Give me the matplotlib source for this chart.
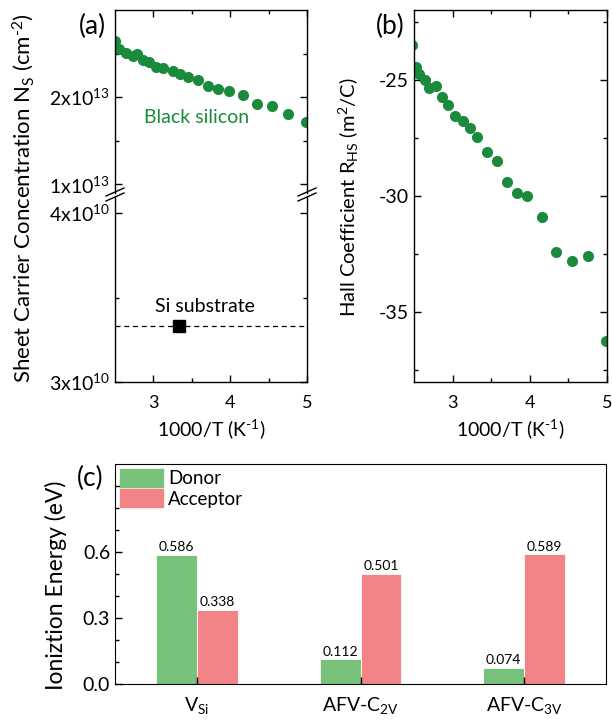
import matplotlib
matplotlib.use("Agg")
import matplotlib.pyplot as plt
from matplotlib.lines import Line2D
from matplotlib.patches import Patch
import numpy as np

plt.rcParams['font.family'] = ['Lato', 'DejaVu Sans']
plt.rcParams['mathtext.fontset'] = 'custom'
plt.rcParams['mathtext.rm'] = 'Lato'
plt.rcParams['mathtext.default'] = 'regular'
plt.rcParams['axes.unicode_minus'] = False

# (a) sheet carrier concentration, black silicon (units of 1e13 cm^-2)
bs_x = [2.50, 2.55, 2.64, 2.73, 2.79, 2.86, 2.94, 3.03, 3.13, 3.25, 3.35,
        3.45, 3.58, 3.71, 3.84, 3.99, 4.17, 4.35, 4.55, 4.75, 4.99]
bs_n = [2.64, 2.55, 2.51, 2.47, 2.49, 2.43, 2.40, 2.35, 2.34, 2.30, 2.27,
        2.23, 2.20, 2.13, 2.09, 2.07, 2.02, 1.92, 1.90, 1.81, 1.71]
# Si substrate (units of 1e10 cm^-2)
si_x = [3.33]
si_n = [3.33]

# (b) Hall coefficient
hall_x = [2.47, 2.53, 2.57, 2.64, 2.70, 2.78, 2.86, 2.94, 3.03, 3.13, 3.22,
          3.32, 3.45, 3.57, 3.70, 3.84, 3.97, 4.16, 4.34, 4.55, 4.76, 4.99]
hall_r = [-23.5, -24.44, -24.74, -25.0, -25.35, -25.26, -25.74, -26.08,
          -26.56, -26.77, -27.08, -27.47, -28.1, -28.5, -29.4, -29.85,
          -30.0, -30.9, -32.4, -32.8, -32.6, -36.25]

# (c) ionization energies
groups = ['V$_{Si}$', 'AFV-C$_{2V}$', 'AFV-C$_{3V}$']
donor = [0.586, 0.112, 0.074]
acceptor = [0.338, 0.501, 0.589]

W, H = 612, 726
GREEN = '#1a8a3c'
BAR_G = '#78c27b'
BAR_R = '#f28487'
XLABEL = r'1000/T (K$^{\text{-}1}$)'


def rect(l, t, r, b):
    return [l / W, 1 - b / H, (r - l) / W, (b - t) / H]


def style(ax):
    ax.tick_params(which='both', direction='in', top=True, right=True,
                   labelsize=13, width=1)
    ax.tick_params(which='major', length=5)
    ax.tick_params(which='minor', length=3)
    ax.tick_params(axis='x', pad=9)
    for s in ax.spines.values():
        s.set_linewidth(1)


fig = plt.figure(figsize=(W / 100, H / 100), dpi=100)

# ---- panel (a), broken axis
ax_up = fig.add_axes(rect(115, 10, 307, 193))
ax_lo = fig.add_axes(rect(115, 197, 307, 382))
ax_up.plot(bs_x, np.array(bs_n) * 1e13, 'o', color=GREEN, ms=8, mec='none')
ax_lo.axhline(si_n[0] * 1e10, color='black', ls='--', lw=0.9, dashes=(4, 3))
ax_lo.plot(si_x, np.array(si_n) * 1e10, 's', color='black', ms=8)
for ax in (ax_up, ax_lo):
    ax.set_xlim(2.5, 5)
    ax.set_xticks([3, 4, 5])
    ax.set_xticks([3.5, 4.5], minor=True)
    style(ax)
    ax.tick_params(axis='y', labelsize=14)
ax_up.set_ylim(0.9e13, 3.0e13)
ax_up.set_yticks([1e13, 2e13])
ax_up.set_yticks([1.5e13, 2.5e13], minor=True)
ax_up.set_yticklabels(['1x10$^{13}$', '2x10$^{13}$'])
ax_up.spines['bottom'].set_visible(False)
ax_up.tick_params(which='both', bottom=False, labelbottom=False)
ax_lo.set_ylim(3e10, 4.095e10)
ax_lo.set_yticks([3e10, 4e10])
ax_lo.set_yticks([3.5e10], minor=True)
ax_lo.set_yticklabels(['3x10$^{10}$', '4x10$^{10}$'])
ax_lo.spines['top'].set_visible(False)
ax_lo.tick_params(which='both', top=False)
ax_lo.set_xlabel(XLABEL, fontsize=14, labelpad=5)
ax_up.text(0.425, 0.415, 'Black silicon', transform=ax_up.transAxes,
           color=GREEN, fontsize=14, ha='center', va='center')
ax_lo.text(0.47, 0.41, 'Si substrate', transform=ax_lo.transAxes,
           color='black', fontsize=14, ha='center', va='center')
fig.text(23 / W, 1 - 198 / H,
         r'Sheet Carrier Concentration N$_S$ (cm$^{\text{-}2}$)',
         rotation=90, fontsize=16, ha='center', va='center')
fig.text(92 / W, 1 - 26 / H, '(a)', fontsize=19, ha='center', va='center')

# break marks
for xp in (115, 307):
    for yp in (192, 197):
        fig.add_artist(Line2D([(xp - 9) / W, (xp + 9) / W],
                              [1 - (yp + 4) / H, 1 - (yp - 4) / H],
                              color='black', lw=1))

# ---- panel (b)
ax_b = fig.add_axes(rect(414, 10, 607, 382))
ax_b.plot(hall_x, hall_r, 'o', color=GREEN, ms=8, mec='none')
ax_b.set_xlim(2.5, 5)
ax_b.set_ylim(-38, -22)
ax_b.set_xticks([3, 4, 5])
ax_b.set_xticks([3.5, 4.5], minor=True)
ax_b.set_yticks([-35, -30, -25])
ax_b.set_yticks([-37.5, -32.5, -27.5, -22.5], minor=True)
style(ax_b)
ax_b.tick_params(axis='y', labelsize=14)
ax_b.set_xlabel(XLABEL, fontsize=14, labelpad=5)
fig.text(349 / W, 1 - 197 / H, 'Hall Coefficient R$_{HS}$ (m$^2$/C)',
         rotation=90, fontsize=14.5, ha='center', va='center')
fig.text(390 / W, 1 - 26 / H, '(b)', fontsize=19, ha='center', va='center')

# ---- panel (c)
ax_c = fig.add_axes(rect(115, 464, 606, 684))
x = np.arange(len(groups))
bw = 0.25
b1 = ax_c.bar(x - bw / 2, donor, bw, color=BAR_G, edgecolor='white', lw=0.6,
              label='Donor')
b2 = ax_c.bar(x + bw / 2, acceptor, bw, color=BAR_R, edgecolor='white', lw=0.6,
              label='Acceptor')
for bars, vals in ((b1, donor), (b2, acceptor)):
    for bar, v in zip(bars, vals):
        ax_c.text(bar.get_x() + bar.get_width() / 2, v + 0.008, f'{v:.3f}',
                  ha='center', va='bottom', fontsize=10)
ax_c.set_xlim(-0.5, 2.5)
ax_c.set_ylim(0, 1.0)
ax_c.set_xticks(x)
ax_c.set_xticklabels(groups, fontsize=16)
ax_c.set_yticks([0, 0.3, 0.6, 0.9])
ax_c.set_yticklabels(['0.0', '0.3', '0.6', ''])
ax_c.set_yticks(np.arange(0.1, 1.0, 0.1), minor=True)
ax_c.tick_params(which='both', direction='in', labelsize=14, width=1)
ax_c.tick_params(which='major', length=5)
ax_c.tick_params(which='minor', length=3)
ax_c.tick_params(axis='x', pad=8)
fig.text(56 / W, 1 - 585 / H, 'Ioniztion Energy (eV)', rotation=90,
         fontsize=16.5, ha='center', va='center')
ax_c.legend(handles=[Patch(color=BAR_G), Patch(color=BAR_R)],
            labels=['Donor', 'Acceptor'], loc='upper left', frameon=False,
            fontsize=13.5, handlelength=2.3, handleheight=1.1,
            borderaxespad=0.15, borderpad=0.1, labelspacing=0.12,
            handletextpad=0.3)
fig.text(90 / W, 1 - 478 / H, '(c)', fontsize=19, ha='center', va='center')

fig.savefig('out.png', dpi=100)
